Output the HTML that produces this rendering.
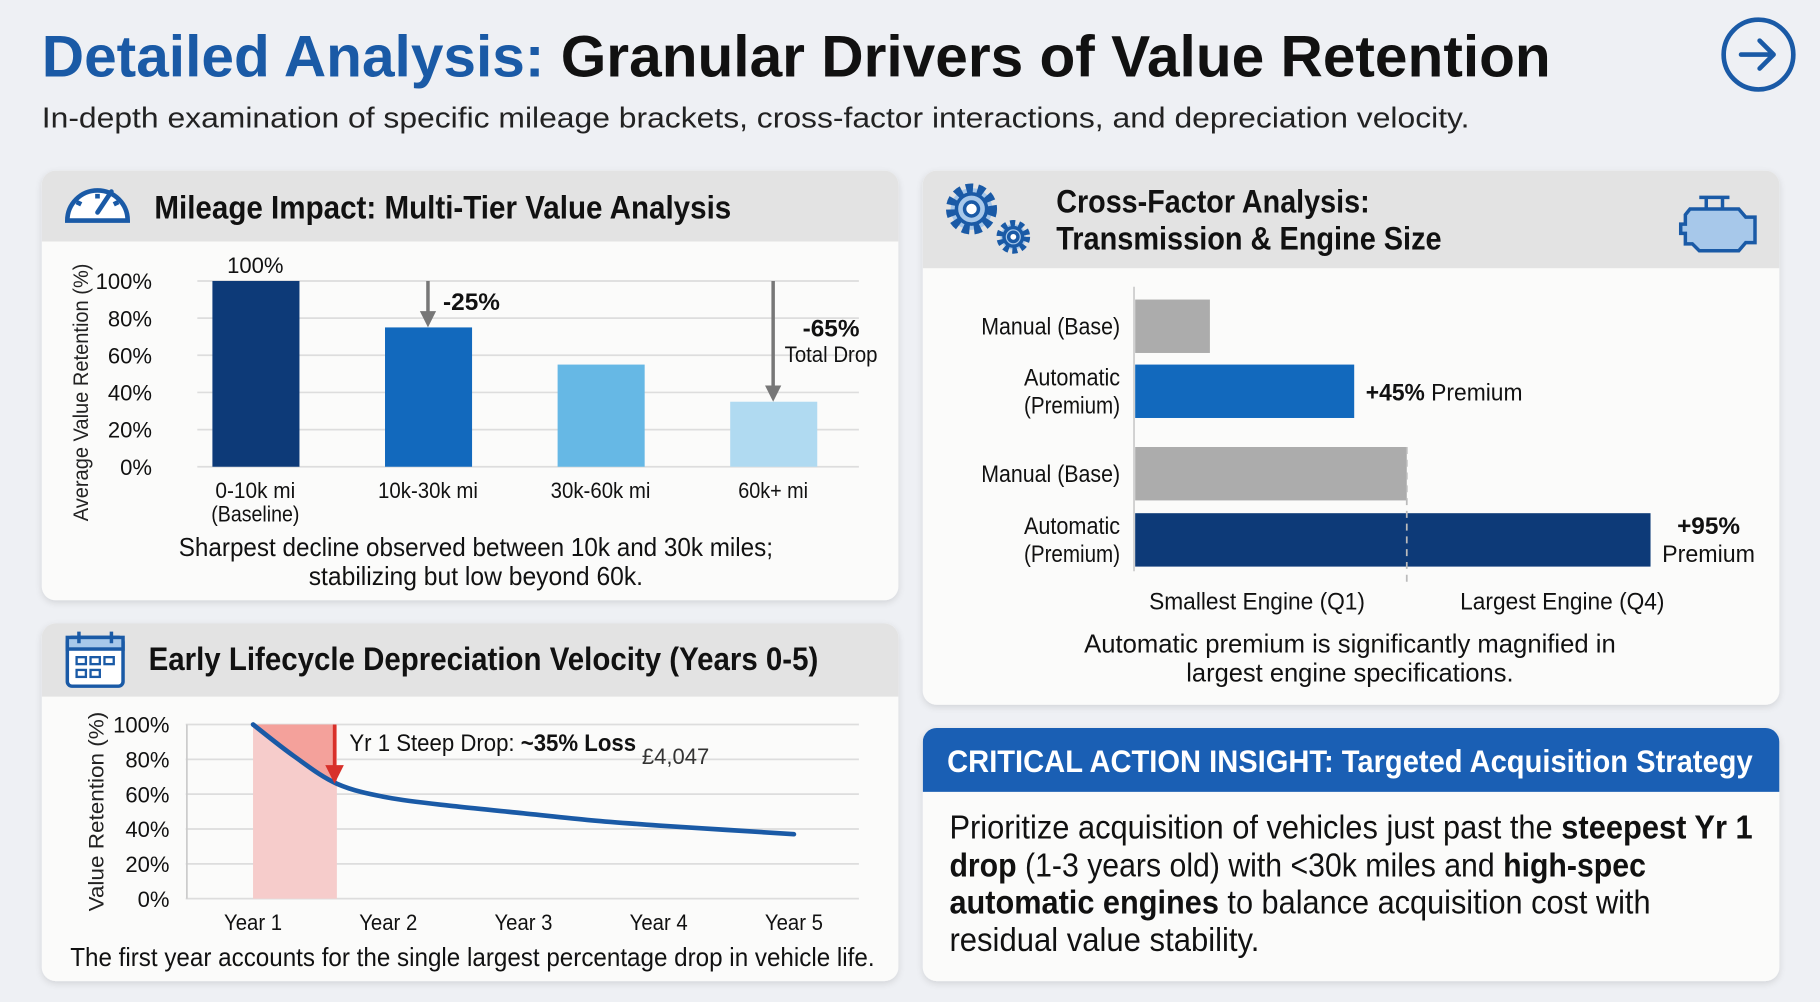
<!DOCTYPE html>
<html><head><meta charset="utf-8"><style>
html,body{margin:0;padding:0;background:#eef0f4;}
svg{display:block;}
.n{font-family:"Liberation Sans Narrow","Liberation Sans",sans-serif;}
.s{font-family:"Liberation Sans",sans-serif;}
</style></head><body>
<svg id="root" width="1820" height="1002" viewBox="0 0 1568 863" preserveAspectRatio="none" xmlns="http://www.w3.org/2000/svg">
<defs>
<filter id="sh" x="-5%" y="-5%" width="110%" height="115%"><feDropShadow dx="0" dy="2" stdDeviation="3" flood-color="#000" flood-opacity="0.12"/></filter>
<clipPath id="c1"><rect x="36" y="147" width="738" height="370" rx="12"/></clipPath>
<clipPath id="c2"><rect x="36" y="537" width="738" height="308" rx="12"/></clipPath>
<clipPath id="c3"><rect x="795" y="147" width="738" height="460" rx="12"/></clipPath>
<clipPath id="c4"><rect x="795" y="627" width="738" height="218" rx="12"/></clipPath>
</defs>
<rect width="1568" height="863" fill="#eef0f4"/>
<text class="s" x="36" y="66" font-size="50" font-weight="bold" textLength="1300" lengthAdjust="spacingAndGlyphs"><tspan fill="#1a5aa6">Detailed Analysis: </tspan><tspan fill="#111">Granular Drivers of Value Retention</tspan></text>
<text class="s" x="36" y="110" font-size="25" fill="#222" textLength="1230" lengthAdjust="spacingAndGlyphs">In-depth examination of specific mileage brackets, cross-factor interactions, and depreciation velocity.</text>
<g><circle cx="1515" cy="47" r="30" fill="none" stroke="#1a5aa6" stroke-width="4"/><path d="M1500 47 H1528 M1516 35 L1528 47 L1516 59" fill="none" stroke="#1a5aa6" stroke-width="4" stroke-linecap="round" stroke-linejoin="round"/></g>

<g>
<rect x="36" y="147" width="738" height="370" rx="12" fill="#fbfbfa" filter="url(#sh)"/>
<rect x="36" y="147" width="738" height="61" fill="#e3e3e3" clip-path="url(#c1)"/>
<g fill="none" stroke="#1a5aa6" stroke-width="4"><path d="M58 190 A26 26 0 1 1 110 190 Z" fill="#fff"/><path d="M84 183 L96 165" stroke-linecap="round"/><path d="M66 174 l4 2 M84 167 v4 M102 174 l-4 2"/></g>
<text class="n" x="133" y="188" font-size="28" font-weight="bold" fill="#111" textLength="497" lengthAdjust="spacingAndGlyphs">Mileage Impact: Multi-Tier Value Analysis</text>
<g id="chart1"></g>
<text class="n" x="410" y="479" font-size="22" fill="#111" text-anchor="middle" textLength="512" lengthAdjust="spacingAndGlyphs">Sharpest decline observed between 10k and 30k miles;</text>
<text class="n" x="410" y="504" font-size="22" fill="#111" text-anchor="middle" textLength="288" lengthAdjust="spacingAndGlyphs">stabilizing but low beyond 60k.</text>
</g>

<g>
<rect x="36" y="537" width="738" height="308" rx="12" fill="#fbfbfa" filter="url(#sh)"/>
<rect x="36" y="537" width="738" height="63" fill="#e3e3e3" clip-path="url(#c2)"/>
<g fill="none" stroke="#1a5aa6" stroke-width="3"><rect x="58" y="549" width="48" height="42" rx="4" fill="#fff"/><rect x="58" y="549" width="48" height="10" fill="#a7c8ea"/><path d="M68 544 v10 M96 544 v10"/><rect x="66" y="566" width="8" height="6" stroke-width="2"/><rect x="78" y="566" width="8" height="6" stroke-width="2"/><rect x="90" y="566" width="8" height="6" stroke-width="2"/><rect x="66" y="577" width="8" height="6" stroke-width="2"/><rect x="78" y="577" width="8" height="6" stroke-width="2"/></g>
<text class="n" x="128" y="577" font-size="28" font-weight="bold" fill="#111" textLength="577" lengthAdjust="spacingAndGlyphs">Early Lifecycle Depreciation Velocity (Years 0-5)</text>
<g id="chart2"></g>
<text class="n" x="407" y="832" font-size="22" fill="#111" text-anchor="middle" textLength="693" lengthAdjust="spacingAndGlyphs">The first year accounts for the single largest percentage drop in vehicle life.</text>
</g>

<g>
<rect x="795" y="147" width="738" height="460" rx="12" fill="#fbfbfa" filter="url(#sh)"/>
<rect x="795" y="147" width="738" height="84" fill="#e3e3e3" clip-path="url(#c3)"/>
<g fill="#a7c8ea" stroke="#1a5aa6" stroke-width="3"><circle cx="837" cy="180" r="18" stroke-dasharray="6 4" stroke-width="8"/><circle cx="837" cy="180" r="13"/><circle cx="837" cy="180" r="6" fill="#fff"/><circle cx="873" cy="204" r="11" stroke-dasharray="4 3" stroke-width="7"/><circle cx="873" cy="204" r="8"/><circle cx="873" cy="204" r="4" fill="#fff"/></g>
<text class="n" x="910" y="183" font-size="28" font-weight="bold" fill="#111" textLength="270" lengthAdjust="spacingAndGlyphs">Cross-Factor Analysis:</text>
<text class="n" x="910" y="215" font-size="28" font-weight="bold" fill="#111" textLength="332" lengthAdjust="spacingAndGlyphs">Transmission &amp; Engine Size</text>
<g stroke="#1a5aa6" stroke-width="3" fill="#a7c8ea"><path d="M1456 180 h42 l6 7 h8 v22 h-8 l-6 7 h-34 l-6 -6 h-6 v-9 h-4 v-8 h4 v-8 z"/><path d="M1470 180 v-10 h14 v10 M1464 170 h26" fill="none"/></g>
<g id="chart3"></g>
<text class="n" x="1163" y="562" font-size="22" fill="#111" text-anchor="middle" textLength="458" lengthAdjust="spacingAndGlyphs">Automatic premium is significantly magnified in</text>
<text class="n" x="1163" y="587" font-size="22" fill="#111" text-anchor="middle" textLength="282" lengthAdjust="spacingAndGlyphs">largest engine specifications.</text>
</g>

<g>
<rect x="795" y="627" width="738" height="218" rx="12" fill="#fbfbfa" filter="url(#sh)"/>
<rect x="795" y="627" width="738" height="55" fill="#1a5fb4" clip-path="url(#c4)"/>
<text class="n" x="1163" y="665" font-size="27" font-weight="bold" fill="#fff" text-anchor="middle" textLength="694" lengthAdjust="spacingAndGlyphs">CRITICAL ACTION INSIGHT: Targeted Acquisition Strategy</text>
<g class="n" font-size="29" fill="#111">
<text x="818" y="722" textLength="692" lengthAdjust="spacingAndGlyphs">Prioritize acquisition of vehicles just past the <tspan font-weight="bold">steepest Yr 1</tspan></text>
<text x="818" y="755" textLength="600" lengthAdjust="spacingAndGlyphs"><tspan font-weight="bold">drop</tspan> (1-3 years old) with &lt;30k miles and <tspan font-weight="bold">high-spec</tspan></text>
<text x="818" y="787" textLength="604" lengthAdjust="spacingAndGlyphs"><tspan font-weight="bold">automatic engines</tspan> to balance acquisition cost with</text>
<text x="818" y="819" textLength="267" lengthAdjust="spacingAndGlyphs">residual value stability.</text>
</g>
</g>
</svg>
<script>
const NS="http://www.w3.org/2000/svg";
// Chart 1 data
const mileCats=["0-10k mi","10k-30k mi","30k-60k mi","60k+ mi"];
const mileVals=[100,75,55,35];
const mileTicks=[0,20,40,60,80,100];
const mileColors=["#0d3a78","#1269bd","#66b8e5","#b0daf1"];
// Chart 2 data
const yearCats=["Year 1","Year 2","Year 3","Year 4","Year 5"];
const curveYears=[1,1.3,1.62,2,2.5,3,3.5,4,4.5,5];
const curveVals=[100,82,66,58,53,49,45,42,39.5,37];
const retTicks=[0,20,40,60,80,100];
// Chart 3 data
const tfLabels=["Manual (Base)","Automatic|(Premium)","Manual (Base)","Automatic|(Premium)"];
const tfVals=[14.5,42.5,52.7,100];
const tfColors=["#acacac","#1269bd","#acacac","#0d3a78"];

function el(tag,attrs,parent,txt){const e=document.createElementNS(NS,tag);for(const k in attrs)e.setAttribute(k,attrs[k]);if(txt!==undefined)e.textContent=txt;parent.appendChild(e);return e;}

(function(){
 const g=document.getElementById('chart1');
 const y=v=>402-v*1.6, x=i=>220+i*148.7;
 mileTicks.forEach(t=>{
  const l=el('line',{x1:170,x2:740,y1:y(t),y2:y(t),stroke:'#ddd','stroke-width':1.5},g);
  
  
  const tx=el('text',{x:131,y:y(t)+7,'font-size':19,'text-anchor':'end',fill:'#111',class:'n'},g,t+'%');
  
  
 });
 const at=el('text',{x:0,y:0,'font-size':18,'text-anchor':'middle',fill:'#222',class:'s',textLength:222,lengthAdjust:'spacingAndGlyphs',transform:'translate(76,338) rotate(-90)'},g,'Average Value Retention (%)');
 
 
 mileVals.forEach((v,i)=>{
  const r=el('rect',{x:x(i)-37,y:y(v),width:75,height:y(0)-y(v),fill:mileColors[i]},g);
  
  
  const t=el('text',{x:x(i),y:429,'font-size':19,'text-anchor':'middle',fill:'#111',class:'n',textLength:mileCats[i].length*8.6,lengthAdjust:'spacingAndGlyphs'},g,mileCats[i]);
  
  
 });
 const b=el('text',{x:x(0),y:449,'font-size':19,'text-anchor':'middle',fill:'#111',class:'n',textLength:76,lengthAdjust:'spacingAndGlyphs'},g,'(Baseline)');
 
 
 const v0=el('text',{x:x(0),y:y(mileVals[0])-7,'font-size':19,'text-anchor':'middle',fill:'#111',class:'n'},g,mileVals[0]+'%');
 
 
 function arrow(xx,y1,y2,name){const a=el('g',{},g);
  el('line',{x1:xx,x2:xx,y1:y1,y2:y2-12,stroke:'#777','stroke-width':3},a);
  el('path',{d:`M${xx-7} ${y2-14} L${xx+7} ${y2-14} L${xx} ${y2} Z`,fill:'#777'},a);}
 arrow(x(1),y(100),y(mileVals[1]),'drop-arrow-25');
 arrow(x(3),y(100),y(mileVals[3]),'drop-arrow-65');
 const l1=el('text',{x:x(1)+13,y:267,'font-size':21,'font-weight':'bold',fill:'#111',class:'n'},g,'-'+(mileVals[0]-mileVals[1])+'%');
 
 
 const l2=el('text',{x:716,y:290,'font-size':21,'font-weight':'bold',fill:'#111','text-anchor':'middle',class:'n'},g,'-'+(mileVals[0]-mileVals[3])+'%');
 
 
 const l3=el('text',{x:716,y:312,'font-size':19,fill:'#111','text-anchor':'middle',class:'n',textLength:80,lengthAdjust:'spacingAndGlyphs'},g,'Total Drop');
 
 
})();

(function(){
 const g=document.getElementById('chart2');
 const y=v=>774-v*1.5, x=t=>218+(t-1)*116.5;
 retTicks.forEach(t=>{
  const l=el('line',{x1:160,x2:740,y1:y(t),y2:y(t),stroke:'#ddd','stroke-width':1.5},g);
  
  
  const tx=el('text',{x:146,y:y(t)+7,'font-size':19,'text-anchor':'end',fill:'#111',class:'n'},g,t+'%');
  
  
 });
 const ax=el('line',{x1:161,x2:161,y1:y(100),y2:y(0),stroke:'#ccc','stroke-width':1.5},g);
 
 
 const at=el('text',{x:0,y:0,'font-size':18,'text-anchor':'middle',fill:'#222',class:'s',textLength:172,lengthAdjust:'spacingAndGlyphs',transform:'translate(89,699) rotate(-90)'},g,'Value Retention (%)');
 
 
 const bandEnd=curveYears[2];
 const band=el('rect',{x:x(1),y:y(100),width:x(bandEnd)-x(1),height:y(0)-y(100),fill:'#f6cccb'},g);
 
 
 let dp=`M${x(1)} ${y(100)}`;
 for(let i=0;i<=2;i++)dp+=` L${x(curveYears[i])} ${y(curveVals[i])}`;
 dp+=` L${x(bandEnd)} ${y(100)} Z`;
 const dk=el('path',{d:dp,fill:'#f4a19b'},g);
 
 
 const pts=curveYears.map((t,i)=>[x(t),y(curveVals[i])]);
 let d=`M${pts[0][0]} ${pts[0][1]}`;
 for(let i=0;i<pts.length-1;i++){const p0=pts[Math.max(0,i-1)],p1=pts[i],p2=pts[i+1],p3=pts[Math.min(pts.length-1,i+2)];
  d+=` C${p1[0]+(p2[0]-p0[0])/6} ${p1[1]+(p2[1]-p0[1])/6} ${p2[0]-(p3[0]-p1[0])/6} ${p2[1]-(p3[1]-p1[1])/6} ${p2[0]} ${p2[1]}`;}
 const ln=el('path',{d:d,fill:'none',stroke:'#1a5aa6','stroke-width':4,'stroke-linecap':'round'},g);
 
 
 const ar=el('g',{},g);
 
 
 const axx=x(bandEnd)-2;
 el('line',{x1:axx,x2:axx,y1:y(100),y2:y(curveVals[2])-14,stroke:'#d8302a','stroke-width':3},ar);
 el('path',{d:`M${axx-8} ${y(curveVals[2])-16} L${axx+8} ${y(curveVals[2])-16} L${axx} ${y(curveVals[2])} Z`,fill:'#d8302a'},ar);
 const an=el('text',{x:301,y:647,'font-size':21,fill:'#111',class:'n',textLength:247,lengthAdjust:'spacingAndGlyphs'},g);
 
 
 an.innerHTML='Yr 1 Steep Drop: <tspan font-weight="bold">~35% Loss</tspan>';
 const st=el('text',{x:553,y:658,'font-size':19,fill:'#333',class:'n',textLength:58,lengthAdjust:'spacingAndGlyphs'},g,'\u00a34,047');
 
 
 yearCats.forEach((c,i)=>{
  const t=el('text',{x:x(i+1),y:801,'font-size':19,'text-anchor':'middle',fill:'#111',class:'n',textLength:50,lengthAdjust:'spacingAndGlyphs'},g,c);
  
  
 });
})();

(function(){
 const g=document.getElementById('chart3');
 const x0=978, xs=v=>x0+v*4.44;
 const ys=[258,314,385,442], bh=46;
 const ax=el('line',{x1:x0-1,x2:x0-1,y1:247,y2:492,stroke:'#ccc','stroke-width':1.5},g);
 
 
 tfVals.forEach((v,i)=>{
  const r=el('rect',{x:x0,y:ys[i],width:xs(v)-x0,height:bh,fill:tfColors[i]},g);
  
  
  const parts=tfLabels[i].split('|');
  parts.forEach((p,j)=>{
   const t=el('text',{x:965,y:ys[i]+bh/2+7+(parts.length>1?(j-0.5)*24:0),'font-size':21,'text-anchor':'end',fill:'#111',class:'n',textLength:p.length*9.2,lengthAdjust:'spacingAndGlyphs'},g,p);
   
   
  });
 });
 const dv=el('line',{x1:xs(tfVals[2]),x2:xs(tfVals[2]),y1:ys[2],y2:502,stroke:'#bbb','stroke-width':1.5,'stroke-dasharray':'6 5'},g);
 
 
 const p1=el('text',{x:xs(tfVals[1])+10,y:ys[1]+bh/2+8,'font-size':21,fill:'#111',class:'n',textLength:135,lengthAdjust:'spacingAndGlyphs'},g);
 
 
 p1.innerHTML='<tspan font-weight="bold">+45%</tspan> Premium';
 const p2=el('text',{x:xs(tfVals[3])+50,y:ys[3]+18,'font-size':21,'font-weight':'bold','text-anchor':'middle',fill:'#111',class:'n'},g,'+95%');
 
 
 const p3=el('text',{x:xs(tfVals[3])+50,y:ys[3]+42,'font-size':21,'text-anchor':'middle',fill:'#111',class:'n',textLength:80,lengthAdjust:'spacingAndGlyphs'},g,'Premium');
 
 
 const q1=el('text',{x:1083,y:525,'font-size':21,'text-anchor':'middle',fill:'#111',class:'n',textLength:186,lengthAdjust:'spacingAndGlyphs'},g,'Smallest Engine (Q1)');
 
 
 const q4=el('text',{x:1346,y:525,'font-size':21,'text-anchor':'middle',fill:'#111',class:'n',textLength:176,lengthAdjust:'spacingAndGlyphs'},g,'Largest Engine (Q4)');
 
 
})();
</script>
</body></html>
